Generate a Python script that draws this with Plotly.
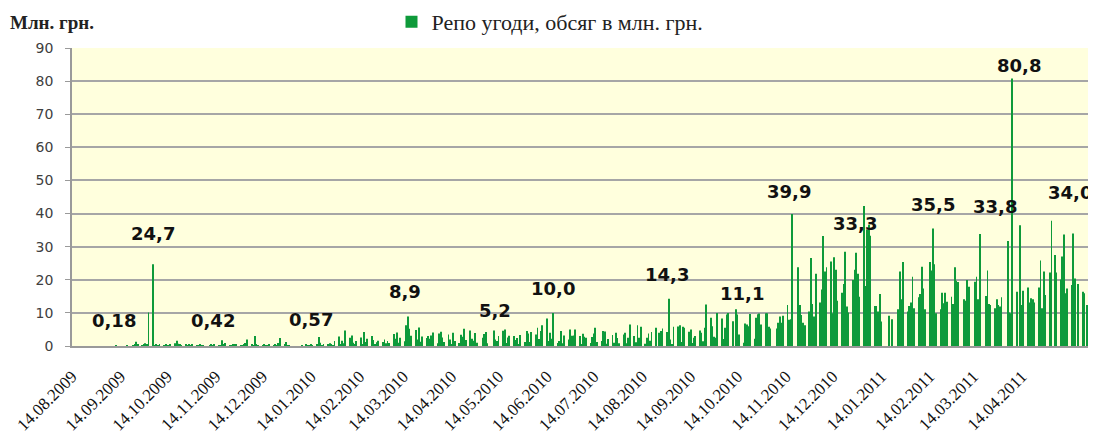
import pandas as pd
import plotly.graph_objects as go

# ---- Daily repo volumes, mln UAH (one value per business day of each month) ----
vol_2009_08 = [0, 0, 0, 0, 0, 0, 0, 0, 0, 0, 0, 0]  # from 14.08.2009
vol_2009_09 = [0, 0, 0, 0, 0, 0, 0, 0, 0.2, 0, 0, 0, 0, 0.3, 0, 0.2, 0.5, 1.3, 0.4, 0.3, 0.6, 0.8]
vol_2009_10 = [0.4, 10.1, 24.7, 0.3, 0.5, 0.2, 0.4, 0.3, 0.6, 0.3, 0.2, 0.5, 0.8, 1.6, 0.7, 0.4, 0.3, 0.6, 0.2, 0.4, 0.3, 0.5]
vol_2009_11 = [0.3, 0.2, 0.4, 0.3, 0.2, 0, 0.3, 0.4, 0.2, 0.5, 0.3, 0.2, 1.7, 0.4, 0.9, 0.3, 0.2, 0.5, 0.4, 0.6, 0.3]
vol_2009_12 = [0.3, 0.5, 0.9, 2.0, 0.4, 0.2, 3.0, 0.6, 0.3, 0.2, 0.4, 0.3, 0.2, 0.5, 0.3, 0.4, 0.2, 0.9, 2.4, 0.6, 1.2, 0.3, 0.2]
vol_2010_01 = [0, 0, 0, 0, 0, 0.2, 0.4, 0.3, 0.2, 0.6, 0.3, 0.5, 2.7, 1.0, 0.3, 0.6, 0.4, 0.8, 0.5, 0.3, 1.5]
vol_2010_02 = [2.9, 0.5, 1.6, 0.8, 4.7, 2.5, 3.2, 1.0, 0.6, 1.5, 2.6, 0.4, 4.2, 1.2, 2.2, 3.0, 1.8, 0.5, 1.1, 1.6]
vol_2010_03 = [1.2, 2.0, 0.8, 1.5, 0.9, 3.6, 2.2, 4.1, 1.0, 2.5, 1.4, 6.3, 8.9, 5.2, 3.1, 4.8, 2.0, 5.6, 1.3, 2.9, 2.4, 3.0, 2.2]
vol_2010_04 = [3.2, 4.1, 0.8, 3.8, 4.3, 2.6, 1.2, 3.5, 2.0, 0.6, 4.0, 1.5, 0.9, 3.4, 2.8, 5.2, 1.8, 4.7, 2.2, 1.6, 3.9, 1.0]
vol_2010_05 = [0, 2.5, 3.6, 4.2, 0.8, 0, 4.7, 2.0, 1.5, 3.0, 4.6, 5.0, 0.9, 2.6, 3.1, 3.0, 1.8, 2.4, 0.6, 3.3, 1.2]
vol_2010_06 = [4.5, 3.8, 1.2, 4.2, 3.5, 5.5, 2.1, 4.5, 6.3, 8.3, 1.5, 4.0, 2.2, 10.0, 0.9, 1.5, 4.5, 0.8, 3.2, 2.0, 5.0, 3.1]
vol_2010_07 = [3.2, 5.0, 3.0, 0.6, 3.7, 2.8, 2.5, 0.9, 2.7, 3.8, 5.5, 1.2, 1.5, 4.5, 4.4, 0.7, 2.1, 3.3, 1.0, 4.0, 2.4, 0.8]
vol_2010_08 = [3.5, 4.0, 0.8, 2.5, 6.5, 3.0, 1.1, 6.3, 2.5, 5.8, 0.7, 2.5, 3.8, 1.6, 4.2, 5.5, 0, 4.0, 4.5, 5.3, 4.2, 14.3]
vol_2010_09 = [2.0, 0.6, 5.8, 5.9, 6.3, 1.2, 5.8, 5.5, 4.3, 5.0, 0.9, 2.5, 3.0, 4.7, 4.0, 1.4, 5.5, 12.5, 8.5, 6.0, 2.8, 2.5]
vol_2010_10 = [10.0, 8.3, 2.1, 5.5, 9.5, 10.0, 7.5, 0, 11.1, 9.5, 3.5, 1.0, 6.8, 6.5, 6.0, 9.7, 2.2, 8.5, 9.6, 9.8, 6.5]
vol_2010_11 = [9.9, 9.9, 5.8, 5.3, 0, 5.3, 7.0, 8.9, 7.0, 9.1, 12.4, 7.9, 8.1, 39.9, 0, 23.8, 12.4, 9.4, 7.0, 6.3, 10.4, 26.6]
vol_2010_12 = [12.7, 8.9, 21.8, 13.1, 17.1, 33.2, 22.5, 23.8, 25.5, 9.9, 26.8, 23.0, 13.7, 16.1, 18.7, 28.5, 11.9, 10.1, 19.9, 23.0, 28.2, 21.8, 14.9]
vol_2011_01 = [42.3, 18.1, 35.2, 36.6, 33.3, 12.1, 12.1, 10.4, 15.7, 7.4, 0, 0, 9.1, 0, 8.1, 0, 11.1, 22.5, 14.1, 25.4, 10.4]
vol_2011_02 = [12.1, 13.1, 20.9, 11.4, 14.7, 15.7, 23.9, 17.4, 11.1, 25.4, 22.8, 35.5, 24.7, 9.9, 11.1, 16.1, 12.9, 16.1, 13.4, 14.9]
vol_2011_03 = [12.7, 23.8, 19.7, 19.3, 0, 14.1, 13.7, 19.9, 17.9, 0, 19.4, 20.9, 14.1, 33.8, 0, 15.1, 22.8, 12.7, 12.4, 11.4, 14.1, 12.4, 11.9]
vol_2011_04 = [14.7, 0, 31.7, 10.1, 9.9, 80.8, 16.4, 0, 36.5, 12.4, 16.7, 17.7, 13.1, 14.4, 14.1, 13.1, 17.7, 25.8, 11.4, 22.5, 15.4]
vol_2011_05 = [22.2, 37.8, 0, 27.5, 22.2, 20.1, 27.0, 33.7, 15.9, 17.4, 18.4, 34.0, 20.4, 0, 18.7, 16.4, 15.9, 0, 12.4, 14.9, 16.7, 24.0]

months = [
    ("2009-08-14", "2009-08-31", vol_2009_08), ("2009-09-01", "2009-09-30", vol_2009_09),
    ("2009-10-01", "2009-10-31", vol_2009_10), ("2009-11-01", "2009-11-30", vol_2009_11),
    ("2009-12-01", "2009-12-31", vol_2009_12), ("2010-01-01", "2010-01-31", vol_2010_01),
    ("2010-02-01", "2010-02-28", vol_2010_02), ("2010-03-01", "2010-03-31", vol_2010_03),
    ("2010-04-01", "2010-04-30", vol_2010_04), ("2010-05-01", "2010-05-31", vol_2010_05),
    ("2010-06-01", "2010-06-30", vol_2010_06), ("2010-07-01", "2010-07-31", vol_2010_07),
    ("2010-08-01", "2010-08-31", vol_2010_08), ("2010-09-01", "2010-09-30", vol_2010_09),
    ("2010-10-01", "2010-10-31", vol_2010_10), ("2010-11-01", "2010-11-30", vol_2010_11),
    ("2010-12-01", "2010-12-31", vol_2010_12), ("2011-01-01", "2011-01-31", vol_2011_01),
    ("2011-02-01", "2011-02-28", vol_2011_02), ("2011-03-01", "2011-03-31", vol_2011_03),
    ("2011-04-01", "2011-04-30", vol_2011_04), ("2011-05-01", "2011-05-31", vol_2011_05),
]

dates, values = [], []
for start, end, vals in months:
    days = pd.bdate_range(start, end)
    for d, v in zip(days, vals):
        dates.append(d)
        values.append(v)

# ---- Axis ticks ----
tick_dates = ["2009-08-14", "2009-09-14", "2009-10-14", "2009-11-14", "2009-12-14",
              "2010-01-14", "2010-02-14", "2010-03-14", "2010-04-14", "2010-05-14",
              "2010-06-14", "2010-07-14", "2010-08-14", "2010-09-14", "2010-10-14",
              "2010-11-14", "2010-12-14", "2011-01-14", "2011-02-14", "2011-03-14",
              "2011-04-14"]
tick_text = ["14.08.2009", "14.09.2009", "14.10.2009", "14.11.2009", "14.12.2009",
             "14.01.2010", "14.02.2010", "14.03.2010", "14.04.2010", "14.05.2010",
             "14.06.2010", "14.07.2010", "14.08.2010", "14.09.2010", "14.10.2010",
             "14.11.2010", "14.12.2010", "14.01.2011", "14.02.2011", "14.03.2011",
             "14.04.2011"]

# ---- Value call-outs ----
label_text = ["0,18", "24,7", "0,42", "0,57", "8,9", "5,2", "10,0", "14,3", "11,1",
              "39,9", "33,3", "35,5", "33,8", "80,8", "34,0"]
label_dates = ["2009-09-10", "2009-10-05", "2009-11-12", "2010-01-14", "2010-03-15",
               "2010-05-12", "2010-06-18", "2010-08-30", "2010-10-17", "2010-11-16",
               "2010-12-28", "2011-02-16", "2011-03-28", "2011-04-12", "2011-05-15"]
label_y = [7.6, 34.1, 7.6, 7.9, 16.6, 10.6, 17.5, 21.5, 16.0, 46.8, 36.9, 42.6, 42.0, 84.6, 46.5]

# The page body has an 8px margin: figure is drawn at (8, 8) in the window.
OFF = 8
W, H = 1096 - OFF, 436 - OFF
PL, PR, PT, PB = 72, 1096, 48, 346          # plot area in window pixels


def px_x(X):
    return (X - PL) / (PR - PL)


def px_y(Y):
    return (PB - Y) / (PB - PT)


fig = go.Figure()
fig.add_trace(go.Bar(
    x=dates, y=values, name="Репо угоди, обсяг в млн. грн.",
    marker=dict(color="#0E9A3A", line=dict(width=0)),
))

for t, d, y in zip(label_text, label_dates, label_y):
    fig.add_annotation(x=d, y=y, xref="x", yref="y", text=t, showarrow=False,
                       font=dict(family="DejaVu Sans", size=18, color="#111111", weight="bold"))

fig.add_annotation(x=px_x(8), y=px_y(22), xref="paper", yref="paper",
                   text="Млн. грн.", showarrow=False, xanchor="left", yanchor="middle",
                   font=dict(family="Liberation Serif", size=19, color="#222222", weight="bold"))

fig.update_layout(
    width=W, height=H,
    margin=dict(l=PL - OFF, r=0, t=PT - OFF, b=H - (PB - OFF), autoexpand=False),
    paper_bgcolor="white", plot_bgcolor="#FFFFDD",
    bargap=0.45,
    showlegend=True,
    legend=dict(orientation="h", x=px_x(550), xanchor="center",
                y=px_y(22), yanchor="middle",
                font=dict(family="Liberation Serif", size=22, color="#222222"),
                bgcolor="rgba(0,0,0,0)"),
    xaxis=dict(type="date", range=["2009-08-14", "2011-05-31 12:00"], automargin=False,
               tickvals=tick_dates, ticktext=tick_text, tickangle=-45,
               tickfont=dict(family="Liberation Serif", size=17, color="#111111"),
               showgrid=False, showline=True, linecolor="#9A9A9A", linewidth=1.5,
               ticks="outside", ticklen=12, tickcolor="rgba(0,0,0,0)", zeroline=False),
    yaxis=dict(range=[0, 90], dtick=10, showgrid=True, gridcolor="#A6A6A6", gridwidth=1.5,
               automargin=False, showline=True, linecolor="#9A9A9A", linewidth=1.5,
               ticks="outside", ticklen=5, tickcolor="#9A9A9A", ticklabelstandoff=9,
               tickfont=dict(family="DejaVu Sans", size=14, color="#404040"), zeroline=False),
)

fig.write_html("out.html")
